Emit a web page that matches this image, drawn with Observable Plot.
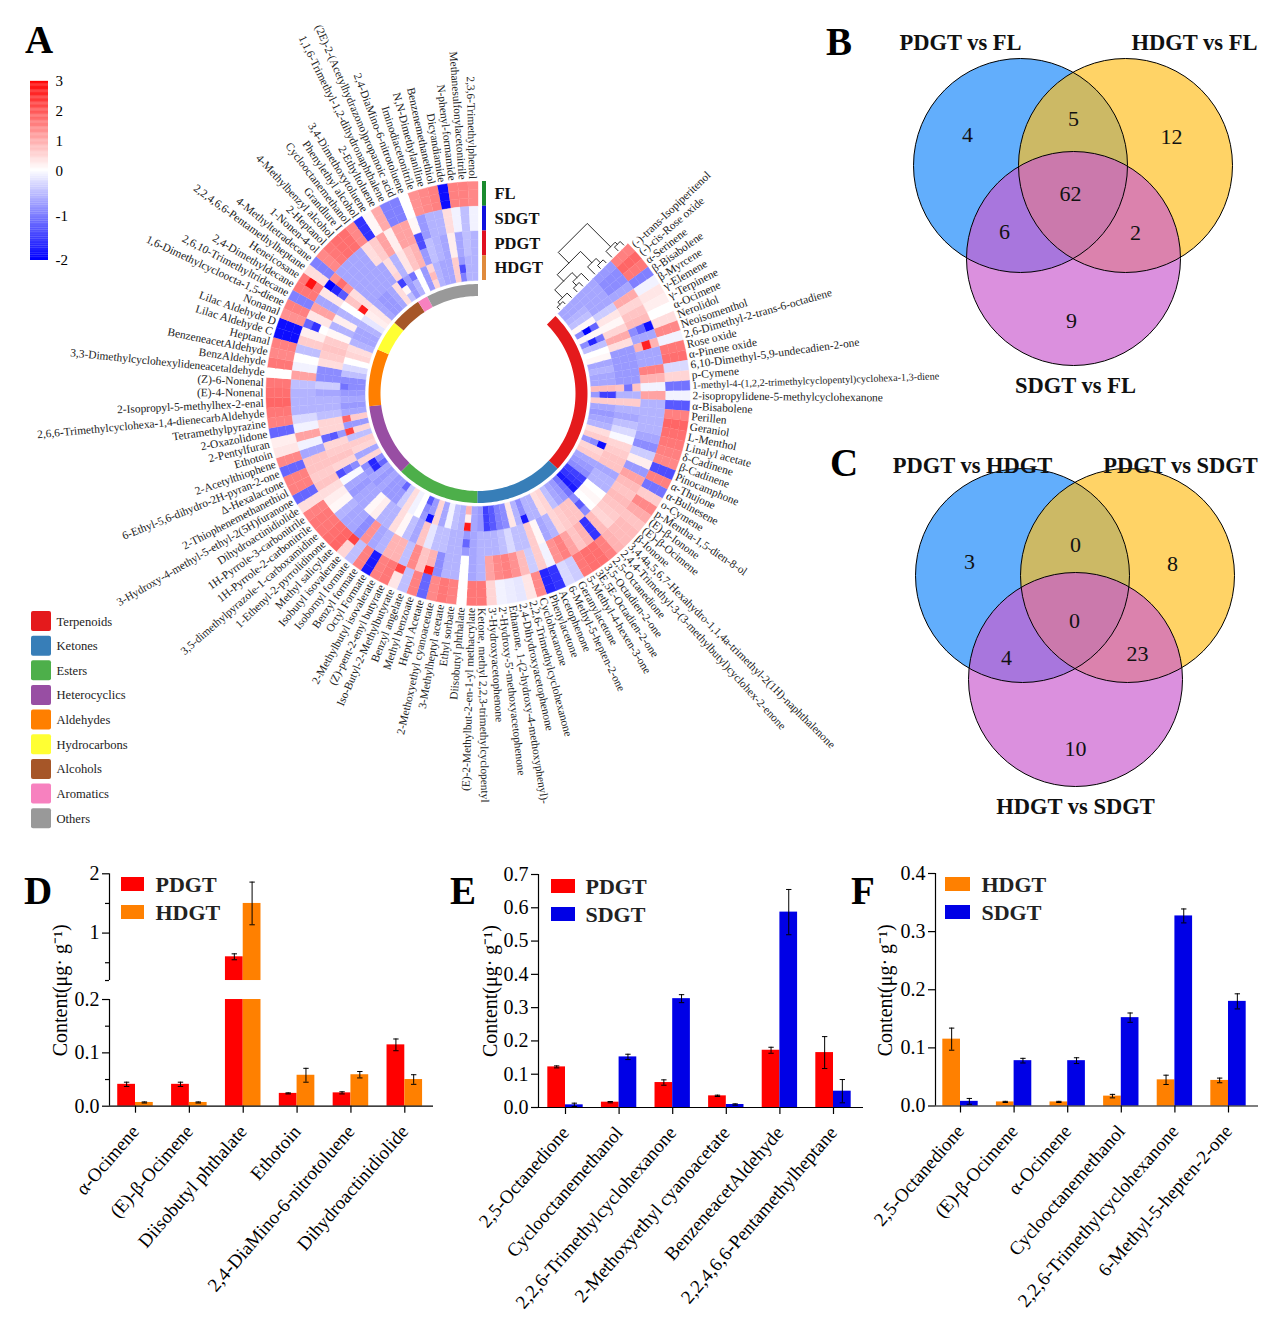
<!DOCTYPE html>
<html><head><meta charset="utf-8">
<script src="https://cdn.jsdelivr.net/npm/d3@7"></script>
<script src="https://cdn.jsdelivr.net/npm/@observablehq/plot@0.6"></script>
<style>
html,body{margin:0;background:#fff}
#page{position:relative;width:1268px;height:1332px;overflow:hidden;font-family:"Liberation Serif",serif;color:#000}
#page svg{position:absolute;max-width:none;background:transparent}
.letter{position:absolute;font-size:39px;font-weight:bold;line-height:39px}
</style></head><body><div id="page"></div>
<script>
// ---------- Panel A data ----------
const compounds = ["(-)-trans-Isopiperitenol","(-)-cis-Rose oxide","α-Serinene","β-Bisabolene","β-Myrcene","γ-Elemene","γ-Terpinene","α-Ocimene","Nerolidol","Neoisomenthol","2,6-Dimethyl-2-trans-6-octadiene","Rose oxide","α-Pinene oxide","6,10-Dimethyl-5,9-undecadien-2-one","p-Cymene","1-methyl-4-(1,2,2-trimethylcyclopentyl)cyclohexa-1,3-diene","2-isopropylidene-5-methylcyclohexanone","α-Bisabolene","Perillen","Geraniol","L-Menthol","Linalyl acetate","δ-Cadinene","β-Cadinene","Pinocamphone","α-Thujone","α-Bulnesene","o-Cymene","p-Mentha-1,5-dien-8-ol","(E)-β-Ionone","(E)-β-Ocimene","β-Ionone",
"3,4,4a,5,6,7-Hexahydro-1,1,4a-trimethyl-2(1H)-naphthalenone","2,4,4-Trimethyl-3-(3-methylbutyl)cyclohex-2-enone","2,5-Octanedione","3,5-Octadien-2-one","3E,5E-Octadien-2-one","5-Methyl-4-hexen-3-one","Geranylacetone","6-Methyl-5-hepten-2-one","Acetophenone","Phenylacetone","Cyclohexanone","2,2,6-Trimethylcyclohexanone","2,4-Dihydroxyacetophenone","Ethanone, 1-(2-hydroxy-4-methoxyphenyl)-","2'-Hydroxy-5'-methoxyacetophenone","3'-Hydroxyacetophenone","Ketone, methyl 2,2,3-trimethylcyclopentyl",
"(E)-2-Methylbut-2-en-1-yl methacrylate","Diisobutyl phthalate","Ethyl sorbate","3-Methylheptyl acetate","2-Methoxyethyl cyanoacetate","Heptyl Acetate","Methyl benzoate","Benzyl angelate","Iso-Butyl-2-Methylbutyrate","(Z)-pent-2-enyl butyrate","2-Methylbutyl isovalerate","Octyl Formate","Benzyl formate","Isobornyl formate","Isobutyl isovalerate","Methyl salicylate",
"1-Ethenyl-2-pyrrolidinone","3,5-dimethylpyrazole-1-carboxamidine","1H-Pyrrole-2-carbonitrile","1H-Pyrrole-3-carbonitrile","Dihydroactinidiolide","3-Hydroxy-4-methyl-5-ethyl-2(5H)furanone","2-Thiophenemethanethiol","Δ-Hexalactone","6-Ethyl-5,6-dihydro-2H-pyran-2-one","2-Acetylthiophene","Ethotoin","2-Pentylfuran","2-Oxazolidone","Tetramethylpyrazine",
"2,6,6-Trimethylcyclohexa-1,4-dienecarbAldehyde","2-Isopropyl-5-methylhex-2-enal","(E)-4-Nonenal","(Z)-6-Nonenal","3,3-Dimethylcyclohexylideneacetaldehyde","BenzAldehyde","BenzeneacetAldehyde","Heptanal","Lilac Aldehyde C","Lilac Aldehyde D","Nonanal",
"1,6-Dimethylcycloocta-1,5-diene","2,6,10-Trimethyltridecane","2,4-Dimethyldecane","Heneicosane","2,2,4,6,6-Pentamethylheptane","4-Methyltetradecane",
"1-Nonen-4-ol","2-Heptanol","4-Methylbenzyl alcohol","Grandlure I","Cyclooctanemethanol","Phenylethyl alcohol",
"3,4-Dimethoxytoluene","2-Ethyltoluene",
"1,1,6-Trimethyl-1,2-dihydronaphthalene","(2E)-2-(Acetylhydrazono)propanoic acid","2,4-DiaMino-6-nitrotoluene","Iminodiacetonitrile","N,N-Dimethylaniline","Benzenemethanethiol","Dicyandiamide","N-phenyl-formamide","Methanesulfonylacetonitrile","2,3,6-Trimethylphenol"];

const FL = [1.5,1.8,1.6,-1.0,-0.1,0.3,0.2,0.0,0.4,1.4,-0.1,1.6,1.7,-0.3,0.5,-1.1,-0.1,-1.3,1.5,1.8,1.7,1.6,1.5,1.4,-1.4,1.5,-1.1,0.6,1.4,1.0,0.7,0.8,
0.8,0.9,1.5,1.7,1.7,1.6,-0.4,-0.3,-1.6,-1.7,1.4,0.3,-0.2,-0.15,-0.1,0.5,1.6,
1.6,0,1.5,1.6,1.4,-1.2,1.5,-0.5,0.3,1.6,1.5,-1.8,1.5,-0.5,0.5,1.8,
1.7,1.6,1.6,1.5,0.4,-1.2,1.5,1.5,-1.2,1.4,0.3,0.2,-1.2,1.5,
1.6,1.8,1.7,1.6,0,1.6,1.4,1.5,-1.9,-1.9,1.3,
1.5,-1,1.6,1.6,0.4,-1,
1.4,1.6,1.7,1.7,1.4,-1.6,
0.1,1.0,
-1,-1,0,1.3,1.4,1.5,-1.9,1.5,1.5,1.4];
const SDGT = [-0.8,-0.9,-0.9,-0.7,1.0,0.5,0.7,0.8,-0.9,-0.7,0.9,-0.7,-0.7,1.5,0.9,-0.1,1.1,-0.6,-0.6,-0.6,-0.6,-0.7,-0.9,-0.4,0.2,-0.8,1.1,0.8,0.7,0.8,0.7,0.6,
0.5,0.8,-1.6,0.9,0.7,1.1,1.5,1.3,-0.1,0.6,-0.4,0.8,1.3,1.5,1.4,1.1,-0.6,
-0.7,0,-0.6,-0.6,-0.9,0.9,0.7,1.4,-0.5,0.9,0.9,-0.6,-0.7,1.3,-0.9,-0.7,
-0.7,-0.6,0.1,0.2,0.4,0.7,0.6,0.7,0.7,-0.7,-0.1,1.1,-0.1,-0.3,
-0.6,-0.6,-0.6,-0.5,1.1,-0.1,0,-0.5,0.6,0.2,-0.9,
0.3,1.1,-0.7,0.3,-1.3,1.3,
-0.7,-0.7,-0.7,-0.7,0.4,0.6,
1.1,0.2,
1.1,1.1,0.1,-0.8,-0.6,-0.6,0.4,-0.1,-0.5,-0.1];
const PDGT = [-0.7,-0.7,-0.7,-0.7,-0.4,0.3,0.1,0.5,1.0,0.4,-0.8,-0.8,-0.8,-0.8,-0.8,0.7,-0.6,0.6,-0.6,-0.7,-0.5,-0.3,-0.05,0.5,0.6,0.7,0.7,-0.7,-0.6,-0.6,0,0.1,
0,-0.9,0.7,0.7,0.6,0.5,-0.6,-0.7,0.1,0.6,-0.5,-0.5,-0.3,-0.5,-0.6,-0.6,-0.6,
-0.7,-0.8,-0.6,-0.6,-0.5,-0.5,-0.2,0.7,-0.7,-0.5,0.1,0.4,-0.6,-0.6,0.2,0.1,
-0.7,-0.7,-0.8,-0.7,-0.05,-0.9,0.5,0.7,0.6,0.5,-0.8,0.5,0.5,-0.5,
-0.6,-0.6,-0.7,-0.4,-0.9,-0.9,0.4,0.6,0.7,0.6,0.1,
-0.6,0.2,-0.6,0,0.7,0.4,
-0.7,-0.7,-0.7,-0.7,-0.7,0.4,
-0.6,0.3,
0.7,0.9,-0.8,-0.5,-0.6,-0.7,0.2,-0.7,-0.5,-0.6];
const HDGT = [-0.7,-0.7,-0.6,-0.5,0.1,-0.9,0.1,-0.9,-0.5,0,0.1,-0.7,-0.6,-0.7,-0.7,0.8,-0.8,0.6,-0.7,-0.8,-0.7,-0.6,0.4,0.6,-0.8,0.5,0.6,-0.7,-0.8,-0.9,-1.5,-1.6,
-1.8,-1.1,-0.8,-0.7,-0.5,0.5,0.4,-0.6,-0.6,-0.9,-0.6,0.3,-0.9,-1,-1.3,-1.5,-0.8,
-0.7,0.2,-0.6,-0.5,-0.1,-0.7,0.5,-0.8,-0.8,0,-0.1,0.4,-0.4,-0.8,-0.8,-0.8,
-0.7,-0.8,-0.7,-0.8,-0.9,0.5,-0.7,0.5,0.6,-0.5,0.5,-0.8,0.6,-0.7,
-0.8,-0.7,-0.8,-0.9,-0.9,-0.5,-0.3,0,0.5,0.4,-0.6,
-0.7,-0.7,-0.6,-0.2,0.2,0.3,
-0.7,-0.8,-0.8,-0.7,0.4,-0.5,
-0.8,-0.6,
0,-0.8,0.5,-0.6,-0.7,-0.7,0.6,-0.8,-0.6,-0.6];
// single replicates that stand out from their track: [compound number, row from the outside, value]
const outliers = [[94,1,2.8],[95,3,-2],[95,4,-1.7],[96,4,1.7],[76,9,2.2],[78,9,1.8],[51,9,2.7],[51,11,0.9],[51,7,-1.2],[57,9,-1.9],[55,3,2.7],[64,2,2.2],[58,2,2.2],
[11,4,2.6],[9,3,-1.9],[9,4,-1.2],[6,10,-2],[6,9,-1.2],[8,10,-1.7],[8,9,-1.1],[25,9,-1.9],[25,10,-0.9],[42,9,-1.8],[95,8,2.7],[102,9,-1.5],[102,10,0.1],[102,8,0.5],
[107,5,-1.4],[107,6,-1.4],[107,10,0.8],[112,10,-1.4],[112,11,-1],[69,10,-1.7],[70,10,-1.7],[69,11,-1.2],[63,11,-1.2],[58,11,-1.3],[58,10,-0.9],[17,9,-1.5],[17,10,-1.5],
[16,7,-1.1],[90,4,-1.6],[90,3,-1.2],[90,5,0],[71,6,-1.4],[71,7,-1.1],[76,7,-1.3],[76,6,-1.2],[34,7,-1.3],[83,9,-1.1],[104,9,-1.1]];
const categories = ["Terpenoids","Ketones","Esters","Heterocyclics","Aldehydes","Hydrocarbons","Alcohols","Aromatics","Others"];
const categoryCounts = [32,17,16,14,11,6,6,2,10];
const categoryColors = ["#e41a1c","#377eb8","#4daf4a","#984ea3","#ff7f00","#ffff33","#a65628","#f781bf","#999999"];
const trackNames = ["FL","SDGT","PDGT","HDGT"];
const trackColors = ["#1a8a2e","#1010dd","#e01020","#e08a3c"];
const colorbarTicks = [-2,-1,0,1,2,3];
// dendrogram over the tracks: [height, radius a, radius b, child height a, child height b]
const dendrogram = [[41,156.5,197.5,26,8],[8,191,204,0,5],[5,200,208,0,0],[26,140,173,17,10],[10,167,179,0,4],[4,175,183,0,0],[17,127.5,152,6,10],[6,121,134,3,0],[3,117,125,0,0],[10,146,158,5,0],[5,142,150,0,0]];

// ---------- Venn data ----------
const vennB = {labels:["PDGT vs FL","HDGT vs FL","SDGT vs FL"], counts:[4,5,12,62,6,2,9]};
const vennC = {labels:["PDGT vs HDGT","PDGT vs SDGT","HDGT vs SDGT"], counts:[3,0,8,0,4,23,10]};

// ---------- Bar data ----------
const namesD = ["α-Ocimene","(E)-β-Ocimene","Diisobutyl phthalate","Ethotoin","2,4-DiaMino-6-nitrotoluene","Dihydroactinidiolide"];
const pdgtD = [0.041,0.041,0.6,0.024,0.025,0.115], pdgtDerr = [0.004,0.004,0.05,0.001,0.002,0.011];
const hdgtD = [0.007,0.007,1.5,0.058,0.059,0.05], hdgtDerr = [0.001,0.001,0.36,0.013,0.006,0.009];
const namesE = ["2,5-Octanedione","Cyclooctanemethanol","2,2,6-Trimethylcyclohexanone","2-Methoxyethyl cyanoacetate","BenzeneacetAldehyde","2,2,4,6,6-Pentamethylheptane"];
const pdgtE = [0.122,0.016,0.075,0.035,0.172,0.165], pdgtEerr = [0.003,0.002,0.008,0.002,0.009,0.048];
const sdgtE = [0.008,0.152,0.327,0.009,0.587,0.049], sdgtEerr = [0.005,0.008,0.012,0.002,0.068,0.035];
const namesF = ["2,5-Octanedione","(E)-β-Ocimene","α-Ocimene","Cyclooctanemethanol","2,2,6-Trimethylcyclohexanone","6-Methyl-5-hepten-2-one"];
const hdgtF = [0.115,0.007,0.007,0.017,0.045,0.044], hdgtFerr = [0.019,0.001,0.001,0.003,0.008,0.004];
const sdgtF = [0.008,0.078,0.078,0.152,0.327,0.18], sdgtFerr = [0.005,0.004,0.005,0.008,0.012,0.013];

const RED="#ff0000", ORANGE="#ff8000", BLUE="#0000e6", SERIF='"Liberation Serif",serif';
const page = document.getElementById("page");
function place(plot,left,top){plot.style.left=left+"px";plot.style.top=top+"px";page.appendChild(plot);}
function letter(t,left,top){const d=document.createElement("div");d.className="letter";d.textContent=t;d.style.left=left+"px";d.style.top=top+"px";page.appendChild(d);}
[FL,SDGT,PDGT,HDGT].forEach(a=>{if(a.length!==compounds.length)throw new Error("length "+a.length)});

// ---------- Panel A: circular heat map ----------
const W=960,H=830,cx=477.5,cy=393;
const start=45, step=315/compounds.length;
const rad=Math.PI/180;
const pol=(deg,r)=>[r*Math.sin(deg*rad),-r*Math.cos(deg*rad)];
function sector(id,a0,a1,r0,r1,extra){
  const n=Math.max(2,Math.ceil((a1-a0)/1.5)+1);const pts=[];
  for(let k=0;k<n;k++){const a=a0+(a1-a0)*k/(n-1);const[p,q]=pol(a,r1);pts.push({id,x:p,y:q,...extra});}
  for(let k=n-1;k>=0;k--){const a=a0+(a1-a0)*k/(n-1);const[p,q]=pol(a,r0);pts.push({id,x:p,y:q,...extra});}
  return pts;
}
const rOuter=212,rowH=99/12;
const outlierMap=new Map(outliers.map(([c,row,v])=>[(c-1)+"/"+row,v]));
const cells=[FL,SDGT,PDGT,HDGT].flatMap((vals,t)=>vals.flatMap((v,i)=>[0,1,2].flatMap(rep=>{
  const row=t*3+rep, val=outlierMap.has(i+"/"+row)?outlierMap.get(i+"/"+row):v;
  return sector(i+"/"+row,start+i*step,start+(i+1)*step,rOuter-(row+1)*rowH,rOuter-row*rowH,{v:val});
})));
let acc=0;
const ringMarks=categories.map((c,k)=>{
  const a0=start+acc*step;acc+=categoryCounts[k];const a1=start+acc*step;
  return Plot.line(sector(c,a0,a1,97.5,109.5,{}),{x:"x",y:"y",z:"id",fill:categoryColors[k],stroke:"none"});
});
const labelData=compounds.map((name,i)=>{const a=start+(i+.5)*step;const[x,y]=pol(a,214.5);return{name,x,y,a,rot:a<180?a-90:a-270};});
const dendroPt=(r,d)=>{const[a,b]=pol(start,r);const e=(d+2);return{x:a-Math.cos(start*rad)*e,y:b-Math.sin(start*rad)*e};};
const dendroLines=dendrogram.flatMap(([h,ra,rb,ca,cb],i)=>[dendroPt(ra,ca),dendroPt(ra,h),dendroPt(rb,h),dendroPt(rb,cb)].map(p=>({...p,id:i})));
const trackKey=trackNames.map((name,i)=>({name,color:trackColors[i],r1:rOuter-i*3*rowH,r0:rOuter-(i+1)*3*rowH}));
const isSmallLabel=d=>d.name.startsWith("1-methyl-4-");
place(Plot.plot({
  width:W,height:H,margin:0,
  x:{domain:[-cx,W-cx],range:[0,W],axis:null},
  y:{domain:[-cy,H-cy],range:[0,H],axis:null},
  color:{type:"linear",domain:[-2,0,3],range:["#0000ff","#ffffff","#ff0000"]},
  style:{fontFamily:SERIF},
  marks:[
    Plot.line(cells,{x:"x",y:"y",z:"id",fill:"v",stroke:"v",strokeWidth:0.4}),
    ...ringMarks,
    Plot.line(dendroLines,{x:"x",y:"y",z:"id",stroke:"#111",strokeWidth:0.9}),
    Plot.text(labelData.filter(d=>d.a<180&&!isSmallLabel(d)),{x:"x",y:"y",text:"name",rotate:"rot",textAnchor:"start",lineAnchor:"middle",fontSize:11.4,fill:"#222"}),
    Plot.text(labelData.filter(isSmallLabel),{x:"x",y:"y",text:"name",rotate:"rot",textAnchor:"start",lineAnchor:"middle",fontSize:10.2,fill:"#222"}),
    Plot.text(labelData.filter(d=>d.a>=180),{x:"x",y:"y",text:"name",rotate:"rot",textAnchor:"end",lineAnchor:"middle",fontSize:11.4,fill:"#222"}),
    Plot.rect(trackKey,{x1:4.5,x2:8.5,y1:d=>-d.r1,y2:d=>-d.r0,fill:d=>d.color}),
    Plot.text(trackKey,{x:16.5,y:d=>-(d.r0+d.r1)/2,text:"name",textAnchor:"start",lineAnchor:"middle",fontSize:16.5,fontWeight:"bold",fill:"#111"})
  ]
}),0,0);

// colour bar: the negative half is drawn stretched, as in the reference
const levels=d3.range(-2,3,0.04);
const barY=v=>v<0?1.5*v:v;
place(Plot.plot({
  width:90,height:220,marginLeft:30,marginRight:42,marginTop:21,marginBottom:20,
  x:{domain:[0,1],axis:null},
  y:{domain:[-3,3],range:[200,21]},
  color:{type:"linear",domain:[-2,0,3],range:["#0000ff","#ffffff","#ff0000"]},
  style:{fontFamily:SERIF},
  marks:[
    Plot.rect(levels,{x1:0,x2:1,y1:d=>barY(d),y2:d=>barY(d+0.045),fill:d=>d}),
    Plot.axisY({anchor:"right",ticks:colorbarTicks.map(barY),tickSize:0,tickPadding:7,tickFormat:u=>String(u<0?u/1.5:u),fontSize:15,label:null})
  ]
}),0,60);

// generic swatch legend
function legend({left,top,entries,colors,rowStep,swW,swH,gap,fontSize,width,rx=0,weight="normal",pad=0}){
  const h=rowStep*entries.length+pad;
  place(Plot.plot({
    width,height:h,margin:0,
    x:{domain:[0,width],range:[0,width],axis:null},
    y:{domain:[0,h],range:[0,h],axis:null},
    color:{type:"ordinal",domain:entries,range:colors},
    style:{fontFamily:SERIF},
    marks:[
      Plot.rect(entries,{x1:0,x2:swW,y1:(d,i)=>pad+i*rowStep,y2:(d,i)=>pad+i*rowStep+swH,fill:d=>d,rx}),
      Plot.text(entries,{x:swW+gap,y:(d,i)=>pad+i*rowStep+swH/2,text:d=>d,textAnchor:"start",lineAnchor:"middle",fontSize,fontWeight:weight,fill:"#222"})
    ]
  }),left,top-pad);
}
legend({left:31,top:611,entries:categories,colors:categoryColors,rowStep:24.65,swW:20,swH:20,gap:5,fontSize:12.6,width:98,rx:2});

// ---------- Venn diagrams ----------
function venn(v,left,top,centers,labelPos,countPos){
  const w=378,h=385;
  const circles=[{c:0,col:"rgb(24,136,250)"},{c:1,col:"rgb(255,190,30)"},{c:2,col:"rgb(202,92,206)"}];
  place(Plot.plot({
    width:w,height:h,margin:0,
    x:{domain:[0,w],range:[0,w],axis:null},
    y:{domain:[0,h],range:[0,h],axis:null},
    r:{type:"identity"},
    style:{fontFamily:SERIF},
    marks:[
      ...circles.map(d=>Plot.dot([d],{x:()=>centers[d.c][0],y:()=>centers[d.c][1],r:107,fill:d.col,fillOpacity:0.68,stroke:"none"})),
      ...circles.map(d=>Plot.dot([d],{x:()=>centers[d.c][0],y:()=>centers[d.c][1],r:107,fill:"none",stroke:"#000",strokeWidth:1})),
      Plot.text(v.labels,{x:(d,i)=>labelPos[i][0],y:(d,i)=>labelPos[i][1],text:d=>d,fontSize:22.5,fontWeight:"bold",fill:"#111"}),
      Plot.text(v.counts,{x:(d,i)=>countPos[i][0],y:(d,i)=>countPos[i][1],text:d=>String(d),fontSize:22,fill:"#111"})
    ]
  }),left,top);
}
venn(vennB,890,20,[[130,145],[235,145],[183,238]],[[70,22],[304,22],[185,365]],[[77,114],[183,98],[281,116],[180,173],[114,211],[245,212],[181,300]]);
venn(vennC,890,445,[[132,130],[237,130],[185,234]],[[82,20],[290,20],[185,361]],[[79,116],[185,99],[282,118],[184,175],[116,212],[247,208],[185,303]]);

// ---------- Bar panels ----------
function bars({left,top,names,s1,s2,xr,axisX,xEnd,yMax,yRange,yMap=v=>v,ticks,minor=[],tickLabel=d=>d.toFixed(1),labelOffset,broken=false}){
  const w=445,h=470,bw=0.33;
  const y0=yRange[0],st=(xr[1]-xr[0])/5;
  const rows=[s1,s2].flatMap((s,k)=>s.vals.map((v,i)=>({i,k,v,e:s.errs[i],xa:k?i:i-bw,xb:k?i+bw:i,xm:k?i+bw/2:i-bw/2})));
  const brk=0.2,axisVal=(axisX-xr[0])/st;
  const barMarks=[s1,s2].flatMap((s,k)=>{
    const data=rows.filter(d=>d.k===k);
    const m=[Plot.rect(data,{x1:"xa",x2:"xb",y1:()=>yMap(0),y2:d=>yMap(broken?Math.min(d.v,brk):d.v),fill:s.color})];
    if(broken)m.push(Plot.rect(data.filter(d=>d.v>brk),{x1:"xa",x2:"xb",y1:()=>yMap(brk+1e-6),y2:d=>yMap(d.v),fill:s.color}));
    return m;
  });
  const spans=broken?[[0,brk],[brk+1e-6,yMax]]:[[0,yMax]];
  const tickLookup=new Map(ticks.map(t=>[yMap(t),tickLabel(t)]));
  place(Plot.plot({
    width:w,height:h,marginLeft:axisX,marginRight:0,marginTop:14,marginBottom:h-y0,
    x:{domain:[0,5],range:xr},
    y:{domain:[yMap(0),yMap(yMax)],range:yRange},
    style:{fontFamily:SERIF,overflow:"visible"},
    marks:[
      ...barMarks,
      Plot.ruleX(rows,{x:"xm",y1:d=>yMap(d.v-d.e),y2:d=>yMap(d.v+d.e),stroke:"#000",strokeWidth:1}),
      Plot.link(rows.flatMap(d=>[{...d,c:d.v-d.e},{...d,c:d.v+d.e}]),{x1:d=>d.xm-0.05,x2:d=>d.xm+0.05,y1:d=>yMap(d.c),y2:d=>yMap(d.c),stroke:"#000",strokeWidth:1}),
      Plot.ruleX(spans,{x:axisVal,y1:d=>yMap(d[0]),y2:d=>yMap(d[1]),stroke:"#000",strokeWidth:1.2}),
      Plot.ruleY([yMap(0)],{x1:axisVal,x2:(xEnd-xr[0])/st,stroke:"#000",strokeWidth:1.2}),
      Plot.axisY({ticks:ticks.map(yMap),tickFormat:u=>tickLookup.get(u),tickSize:7,tickPadding:3,fontSize:20,strokeWidth:1.2,label:"Content(μg· g⁻¹)",labelAnchor:"center",labelArrow:"none",labelOffset}),
      ...(minor.length?[Plot.axisY({ticks:minor.map(yMap),tickFormat:()=>"",tickSize:4,strokeWidth:1.2,label:null})]:[]),
      Plot.axisX({ticks:[0,1,2,3,4,5],tickFormat:i=>names[i],tickRotate:-49,tickSize:7,tickPadding:15,fontSize:19,strokeWidth:1.2,label:null})
    ]
  }),left,top);
}
// the y axis of D is broken at 0.2: 0-0.2 takes the lower part, 0.2-2 the upper one
const brokenY=v=>v<=0.2?v:0.2+19/533.5+(v-0.2)*(59.3/533.5);
bars({left:0,top:860,names:namesD,
  s1:{vals:pdgtD,errs:pdgtDerr,color:RED},s2:{vals:hdgtD,errs:hdgtDerr,color:ORANGE},
  xr:[135,404.3],axisX:109,xEnd:433,broken:true,labelOffset:57,
  yMax:2,yMap:brokenY,yRange:[245.7,13.3],
  ticks:[0,0.1,0.2,1,2],minor:[0.05,0.15,0.200001,0.5,1.5],tickLabel:d=>d<=0.2?d.toFixed(1):String(d)});
bars({left:440,top:860,names:namesE,
  s1:{vals:pdgtE,errs:pdgtEerr,color:RED},s2:{vals:sdgtE,errs:sdgtEerr,color:BLUE},
  xr:[125,393],axisX:98,xEnd:423,labelOffset:56,
  yMax:0.7,yRange:[247,14],
  ticks:[0,0.1,0.2,0.3,0.4,0.5,0.6,0.7]});
bars({left:845,top:860,names:namesF,
  s1:{vals:hdgtF,errs:hdgtFerr,color:ORANGE},s2:{vals:sdgtF,errs:sdgtFerr,color:BLUE},
  xr:[115,383],axisX:90,xEnd:413,labelOffset:58,
  yMax:0.4,yRange:[245.5,13],
  ticks:[0,0.1,0.2,0.3,0.4]});
legend({left:121,top:877,entries:["PDGT","HDGT"],colors:[RED,ORANGE],rowStep:28,swW:23,swH:14,gap:11,fontSize:22,width:105,weight:"bold",pad:8});
legend({left:551,top:879,entries:["PDGT","SDGT"],colors:[RED,BLUE],rowStep:28,swW:24,swH:14,gap:10,fontSize:22,width:105,weight:"bold",pad:8});
legend({left:945,top:877,entries:["HDGT","SDGT"],colors:[ORANGE,BLUE],rowStep:28,swW:25,swH:14,gap:11,fontSize:22,width:105,weight:"bold",pad:8});

[["A",25,20],["B",826,22],["C",830,443],["D",24,871],["E",450,871],["F",851,871]].forEach(d=>letter(...d));
</script></body></html>
